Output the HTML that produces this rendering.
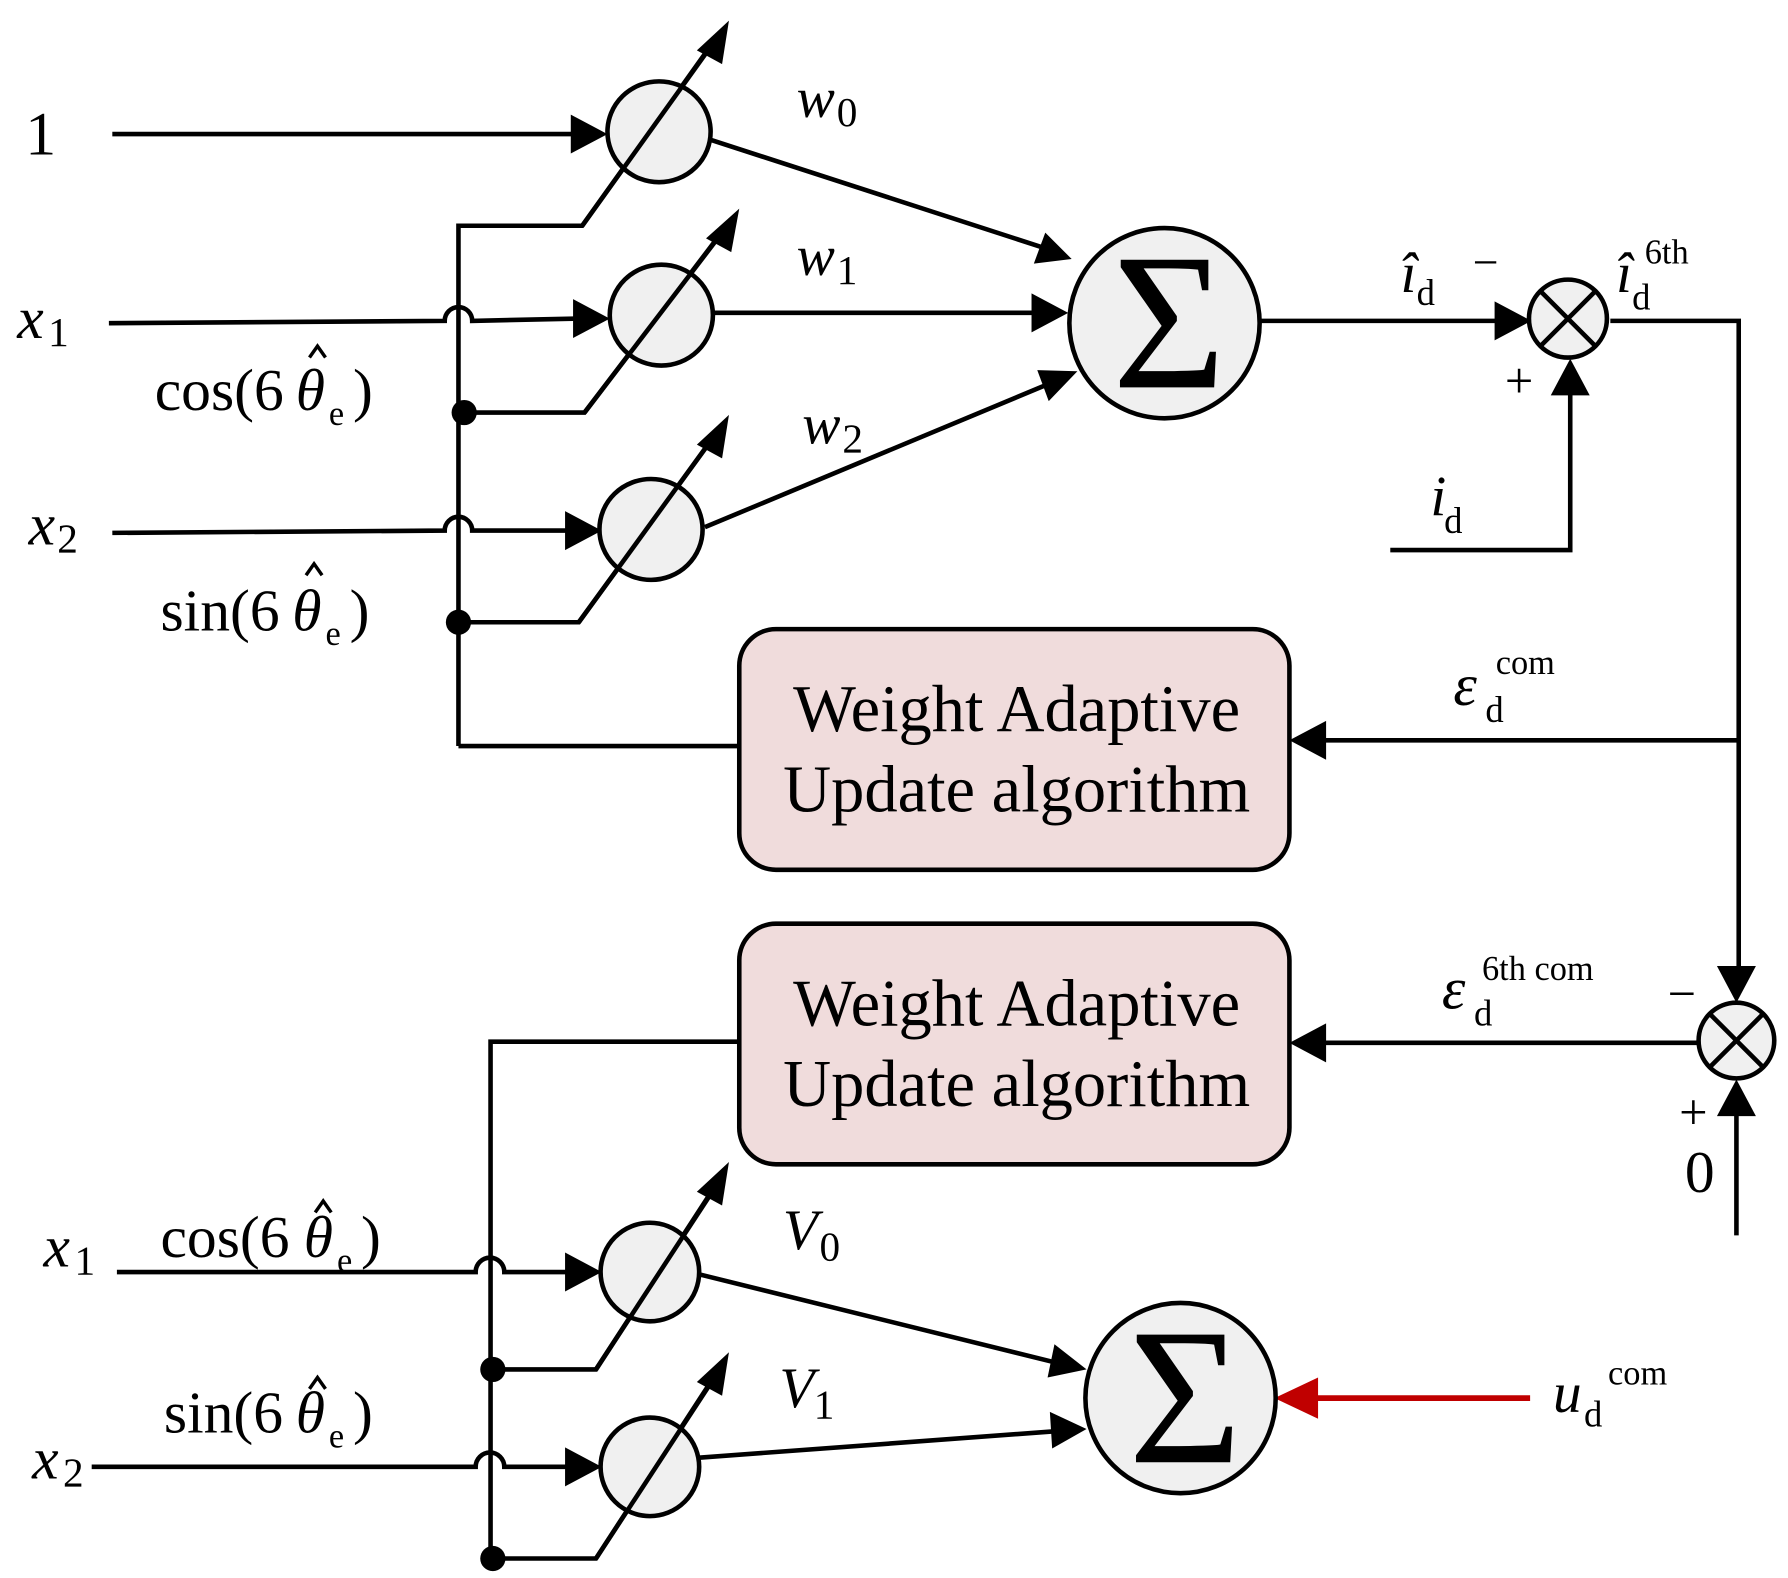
<!DOCTYPE html>
<html><head><meta charset="utf-8"><style>
html,body{margin:0;padding:0;background:#fff;}
svg{display:block;}
text{font-family:"Liberation Serif",serif;fill:#000;}
.i{font-style:italic;}
</style></head><body>
<svg width="1788" height="1578" viewBox="0 0 1560 1377" preserveAspectRatio="none" xmlns="http://www.w3.org/2000/svg">
<g stroke="#000" stroke-width="4" fill="none" stroke-linejoin="miter">
<line x1="98" y1="117" x2="505" y2="117"/>
<path d="M95 282 L388 280 A12 12 0 0 1 412 280 L505 278"/>
<line x1="620" y1="273" x2="905" y2="273"/>
<path d="M98 465 L388 463 A12 12 0 0 1 412 463 L500 463"/>
<path d="M400 651 L400 197 L508 197 L620 40"/>
<path d="M400 360 L510 360 L628 205"/>
<path d="M400 543 L505 543 L620 385"/>
<line x1="400" y1="651" x2="645" y2="651"/>
<line x1="620" y1="122" x2="910" y2="216"/>
<line x1="615" y1="460" x2="915" y2="335"/>
<line x1="1100" y1="280" x2="1310" y2="280"/>
<path d="M1405 280 L1517 280 L1517 845"/>
<path d="M1213 480 L1370 480 L1370 342"/>
<line x1="1517" y1="646" x2="1150" y2="646"/>
<line x1="1482" y1="910" x2="1150" y2="910"/>
<line x1="1515" y1="1078" x2="1515" y2="968"/>
<path d="M645 909 L428 909 L428 1360"/>
<path d="M102 1110 L415 1110 A12 12 0 0 1 440 1110 L500 1110"/>
<path d="M80 1280 L415 1280 A12 12 0 0 1 440 1280 L500 1280"/>
<path d="M428 1195 L520 1195 L622 1038"/>
<path d="M428 1360 L520 1360 L622 1203"/>
<line x1="610" y1="1112" x2="925" y2="1190"/>
<line x1="610" y1="1272" x2="920" y2="1249"/>
</g>
<line x1="1335" y1="1220" x2="1140" y2="1220" stroke="#c00000" stroke-width="5"/>
<polygon points="1112,1220 1150,1202 1150,1238" fill="#c00000"/>
<g stroke="#000" stroke-width="4" fill="#f0f0f0">
<ellipse cx="575" cy="115" rx="45" ry="44"/>
<ellipse cx="577" cy="275" rx="45" ry="44"/>
<ellipse cx="568" cy="462" rx="45" ry="44"/>
<ellipse cx="567" cy="1110" rx="43" ry="43"/>
<ellipse cx="567" cy="1280" rx="43" ry="43"/>
<circle cx="1016" cy="282" r="83"/>
<circle cx="1030" cy="1220" r="83"/>
<circle cx="1368" cy="278" r="34"/>
<circle cx="1515" cy="908" r="33"/>
<rect x="645" y="549" width="480" height="210" rx="32" fill="#f0dcdc"/>
<rect x="645" y="806" width="480" height="210" rx="32" fill="#f0dcdc"/>
</g>
<g stroke="#000" stroke-width="4">
<line x1="508" y1="197" x2="622" y2="38"/>
<line x1="510" y1="360" x2="630" y2="203"/>
<line x1="505" y1="543" x2="622" y2="382"/>
<line x1="520" y1="1195" x2="624" y2="1036"/>
<line x1="520" y1="1360" x2="624" y2="1201"/>
<line x1="1344" y1="254" x2="1392" y2="302"/>
<line x1="1392" y1="254" x2="1344" y2="302"/>
<line x1="1492" y1="885" x2="1538" y2="931"/>
<line x1="1538" y1="885" x2="1492" y2="931"/>
</g>
<g fill="#000">
<polygon points="530,117 498,100 498,134"/>
<polygon points="532,278 500,261 500,295"/>
<polygon points="525,463 493,446 493,480"/>
<polygon points="525,1110 493,1093 493,1127"/>
<polygon points="525,1280 493,1263 493,1297"/>
<polygon points="636,18 630,56 608,44"/>
<polygon points="645,182 638,220 616,208"/>
<polygon points="636,362 630,400 608,388"/>
<polygon points="636,1014 630,1052 608,1040"/>
<polygon points="636,1180 630,1218 608,1206"/>
<polygon points="935,226 912,203 902,230"/>
<polygon points="932,273 900,256 900,290"/>
<polygon points="940,324 905,323 915,350"/>
<polygon points="948,1195 920,1173 914,1202"/>
<polygon points="948,1247 916,1232 918,1264"/>
<polygon points="1336,280 1304,263 1304,297"/>
<polygon points="1370,313 1353,345 1387,345"/>
<polygon points="1515,875 1498,843 1532,843"/>
<polygon points="1515,942 1498,974 1532,974"/>
<polygon points="1125,646 1157,629 1157,663"/>
<polygon points="1125,910 1157,893 1157,927"/>
<circle cx="405" cy="360" r="11"/>
<circle cx="400" cy="543" r="11"/>
<circle cx="430" cy="1195" r="11"/>
<circle cx="430" cy="1360" r="11"/>
</g>
<!-- hats over theta -->
<g stroke="#000" stroke-width="3" fill="none">
<path d="M270 312 L277 302 L284 312"/>
<path d="M267 502 L274 492 L281 502"/>
<path d="M275 1058 L282 1048 L289 1058"/>
<path d="M270 1212 L277 1202 L284 1212"/>
</g>
<text x="1020" y="338" font-size="170" text-anchor="middle">Σ</text>
<text x="1034" y="1276" font-size="170" text-anchor="middle">Σ</text>
<text x="22" y="135" font-size="54">1</text>
<text x="15" y="295" font-size="52" class="i">x</text><text x="42" y="302" font-size="36">1</text>
<text x="25" y="475" font-size="52" class="i">x</text><text x="50" y="482" font-size="36">2</text>
<text x="135" y="358" font-size="52">cos(6</text><text x="258" y="358" font-size="52" class="i">θ</text><text x="287" y="371" font-size="30">e</text><text x="308" y="358" font-size="52">)</text>
<text x="140" y="550" font-size="52">sin(6</text><text x="255" y="550" font-size="52" class="i">θ</text><text x="284" y="563" font-size="30">e</text><text x="305" y="550" font-size="52">)</text>
<text x="140" y="1097" font-size="52">cos(6</text><text x="265" y="1097" font-size="52" class="i">θ</text><text x="294" y="1110" font-size="30">e</text><text x="315" y="1097" font-size="52">)</text>
<text x="143" y="1250" font-size="52">sin(6</text><text x="258" y="1250" font-size="52" class="i">θ</text><text x="287" y="1263" font-size="30">e</text><text x="308" y="1250" font-size="52">)</text>
<text x="695" y="102" font-size="50" class="i">w</text><text x="730" y="110" font-size="36">0</text>
<text x="695" y="240" font-size="50" class="i">w</text><text x="730" y="248" font-size="36">1</text>
<text x="700" y="387" font-size="50" class="i">w</text><text x="735" y="395" font-size="36">2</text>
<text x="1222" y="255" font-size="50" class="i">î</text><text x="1236" y="266" font-size="32">d</text>
<text x="1285" y="242" font-size="40">−</text>
<text x="1410" y="255" font-size="50" class="i">î</text><text x="1424" y="270" font-size="32">d</text><text x="1435" y="230" font-size="30">6th</text>
<text x="1313" y="347" font-size="44">+</text>
<text x="1248" y="450" font-size="50" class="i">i</text><text x="1260" y="465" font-size="32">d</text>
<text x="1268" y="615" font-size="52" class="i">ε</text><text x="1296" y="630" font-size="32">d</text><text x="1305" y="588" font-size="30">com</text>
<text x="1258" y="880" font-size="52" class="i">ε</text><text x="1286" y="895" font-size="32">d</text><text x="1293" y="855" font-size="30">6th com</text>
<text x="1455" y="882" font-size="44">−</text>
<text x="1465" y="985" font-size="44">+</text>
<text x="1470" y="1040" font-size="52">0</text>
<text x="887" y="638" font-size="58" text-anchor="middle">Weight Adaptive</text>
<text x="887" y="708" font-size="58" text-anchor="middle">Update algorithm</text>
<text x="887" y="895" font-size="58" text-anchor="middle">Weight Adaptive</text>
<text x="887" y="965" font-size="58" text-anchor="middle">Update algorithm</text>
<text x="38" y="1105" font-size="52" class="i">x</text><text x="65" y="1112" font-size="36">1</text>
<text x="28" y="1290" font-size="52" class="i">x</text><text x="55" y="1297" font-size="36">2</text>
<text x="683" y="1090" font-size="50" class="i">V</text><text x="715" y="1100" font-size="36">0</text>
<text x="680" y="1228" font-size="50" class="i">V</text><text x="710" y="1238" font-size="36">1</text>
<text x="1355" y="1232" font-size="50" class="i">u</text><text x="1382" y="1245" font-size="32">d</text><text x="1403" y="1208" font-size="30">com</text>
</svg>
</body></html>
